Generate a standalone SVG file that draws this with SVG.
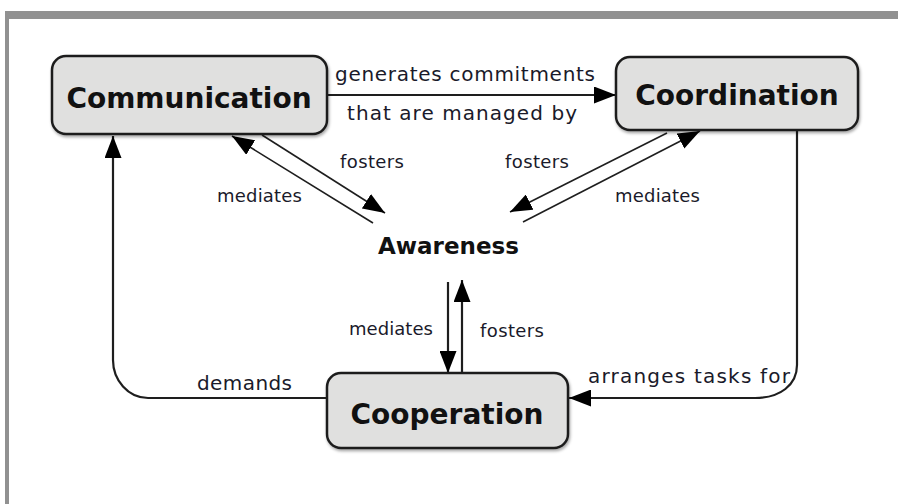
<svg xmlns="http://www.w3.org/2000/svg" width="898" height="504" viewBox="0 0 898 504">
  <defs>
    <style>
      .frame { fill: #919191; }
      .box { fill: #e0e0df; stroke: #1e1e1e; stroke-width: 2.5; }
      .ntext { font-family: "DejaVu Sans", Verdana, sans-serif; font-weight: bold; font-size: 28px; fill: #111; text-anchor: middle; }
      .atext { font-family: "DejaVu Sans", Verdana, sans-serif; font-weight: bold; font-size: 23px; fill: #111; }
      .lbl { font-family: "DejaVu Sans", Verdana, sans-serif; font-size: 18px; fill: #1a1a2a; }
      .lbl2 { font-family: "DejaVu Sans", Verdana, sans-serif; font-size: 20px; fill: #1a1a2a; }
      .conn { fill: none; stroke: #1e1e1e; stroke-width: 2.2; }
      .thin { fill: none; stroke: #1e1e1e; stroke-width: 1.6; }
    </style>
    <marker id="arr" viewBox="0 0 22 17" refX="22" refY="8.5" markerWidth="22" markerHeight="17" markerUnits="userSpaceOnUse" orient="auto">
      <path d="M0,0 L22,8.5 L0,17 Z" fill="#000"/>
    </marker>
    <filter id="sh" x="-10%" y="-10%" width="120%" height="130%">
      <feDropShadow dx="1" dy="2" stdDeviation="1.5" flood-color="#000" flood-opacity="0.35"/>
    </filter>
  </defs>

  <rect width="898" height="504" fill="#ffffff"/>
  <rect class="frame" x="5" y="11" width="893" height="8"/>
  <rect class="frame" x="5" y="11" width="4" height="493"/>

  <g id="connectors">
    <line class="conn" x1="327" y1="95" x2="616" y2="95" marker-end="url(#arr)"/>
    <line class="thin" x1="262" y1="135" x2="385" y2="213" marker-end="url(#arr)"/>
    <line class="thin" x1="373" y1="223" x2="232" y2="136" marker-end="url(#arr)"/>
    <line class="thin" x1="667" y1="133" x2="510" y2="212" marker-end="url(#arr)"/>
    <line class="thin" x1="523" y1="222" x2="700" y2="131" marker-end="url(#arr)"/>
    <line class="conn" x1="448" y1="282" x2="448" y2="373" marker-end="url(#arr)"/>
    <line class="conn" x1="462" y1="373" x2="462" y2="280" marker-end="url(#arr)"/>
    <path class="conn" d="M797,131 L797,365 C797,385 780,398 755,398 L569,398" marker-end="url(#arr)"/>
    <path class="conn" d="M327,398 L148,398 C128,398 113,380 113,360 L113,136" marker-end="url(#arr)"/>

    <text class="lbl2" x="335" y="81" textLength="260" lengthAdjust="spacing">generates commitments</text>
    <text class="lbl2" x="347" y="120" textLength="230" lengthAdjust="spacing">that are managed by</text>
    <text class="lbl" x="340" y="168" textLength="64" lengthAdjust="spacing">fosters</text>
    <text class="lbl" x="217" y="202" textLength="85" lengthAdjust="spacing">mediates</text>
    <text class="lbl" x="505" y="168" textLength="64" lengthAdjust="spacing">fosters</text>
    <text class="lbl" x="615" y="202" textLength="85" lengthAdjust="spacing">mediates</text>
    <text class="lbl" x="349" y="335" textLength="84" lengthAdjust="spacing">mediates</text>
    <text class="lbl" x="480" y="337" textLength="64" lengthAdjust="spacing">fosters</text>
    <text class="lbl2" x="197" y="390" textLength="95" lengthAdjust="spacing">demands</text>
    <text class="lbl2" x="588" y="383" textLength="202" lengthAdjust="spacing">arranges tasks for</text>
  </g>

  <g id="node-communication">
    <rect class="box" x="52" y="56" width="275" height="78" rx="14" filter="url(#sh)"/>
    <text class="ntext" x="189" y="108">Communication</text>
  </g>
  <g id="node-coordination">
    <rect class="box" x="616" y="57" width="242" height="73" rx="14" filter="url(#sh)"/>
    <text class="ntext" x="737" y="105">Coordination</text>
  </g>
  <g id="node-awareness">
    <text class="atext" x="378" y="254">Awareness</text>
  </g>
  <g id="node-cooperation">
    <rect class="box" x="327" y="373" width="241" height="75" rx="14" filter="url(#sh)"/>
    <text class="ntext" x="447" y="424">Cooperation</text>
  </g>
</svg>
